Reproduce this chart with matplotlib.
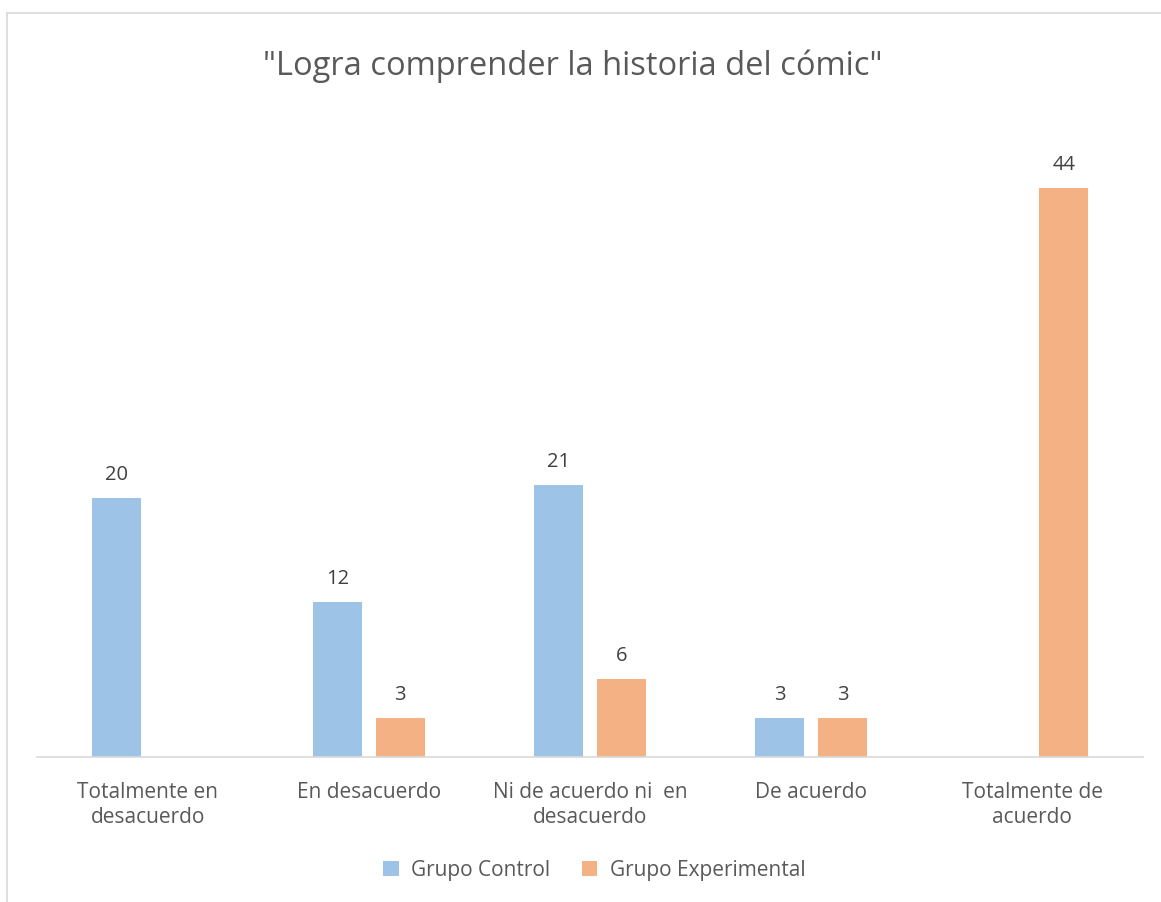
import numpy as np
import matplotlib.pyplot as plt
from matplotlib.lines import Line2D

categorias = ["Totalmente en\ndesacuerdo", "En desacuerdo", "Ni de acuerdo ni  en\ndesacuerdo",
              "De acuerdo", "Totalmente de\nacuerdo"]
control = [20, 12, 21, 3, np.nan]
experimental = [np.nan, 3, 6, 3, 44]

azul = '#9DC3E6'
naranja = '#F4B183'

plt.rcParams['font.family'] = ['Open Sans', 'DejaVu Sans']

fig = plt.figure(figsize=(11.61, 9.02), dpi=100)
ax = fig.add_axes([0.0319, 0.1608, 0.9526, 0.7173])

x = np.arange(len(categorias))
w = 0.222
off = 0.142
b1 = ax.bar(x - off, control, w, color=azul, label='Grupo Control')
b2 = ax.bar(x + off, experimental, w, color=naranja, label='Grupo Experimental')

for bars, vals in ((b1, control), (b2, experimental)):
    for r, v in zip(bars, vals):
        if np.isnan(v):
            continue
        ax.text(r.get_x() + r.get_width() / 2, v + 1.0, f"{int(v)}", ha='center', va='bottom',
                fontsize=14.5, color='#404040')

ax.set_xlim(-0.5, len(categorias) - 0.5)
ax.set_ylim(0, 50)
ax.set_yticks([])
ax.set_xticks(x)
ax.set_xticklabels(categorias, fontsize=15, color='#595959', linespacing=1.25)
ax.tick_params(axis='x', length=0, pad=18)
for s in ['top', 'right', 'left']:
    ax.spines[s].set_visible(False)
ax.spines['bottom'].set_color('#D9D9D9')
ax.spines['bottom'].set_linewidth(1.2)

fig.text(0.493, 0.926, '"Logra comprender la historia del cómic"', ha='center', va='center',
         fontsize=23.5, color='#595959')

# borde del gráfico
fig.add_artist(Line2D([7 / 1161, 7 / 1161], [0, 1 - 13 / 902], color='#D9D9D9', lw=1.2))
fig.add_artist(Line2D([7 / 1161, 1], [1 - 13 / 902, 1 - 13 / 902], color='#D9D9D9', lw=1.2))

leg = fig.legend(handles=[b1, b2], loc='center', bbox_to_anchor=(0.512, 0.035), ncol=2,
                 frameon=False, fontsize=15, handlelength=0.75, handleheight=0.75,
                 handletextpad=0.6, columnspacing=1.5)
for t in leg.get_texts():
    t.set_color('#595959')

fig.savefig('out.png', dpi=100)
